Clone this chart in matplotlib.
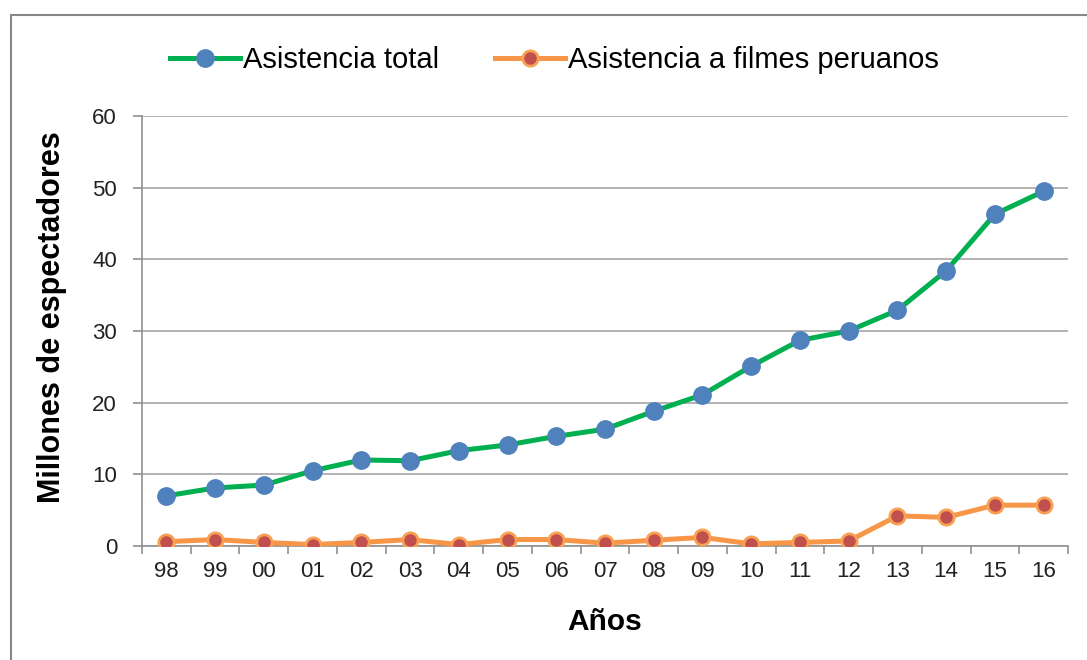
import numpy as np
import matplotlib
matplotlib.use("Agg")
import matplotlib.pyplot as plt
from matplotlib.patches import Rectangle

plt.rcParams['font.family'] = ['Liberation Sans', 'DejaVu Sans']

# Datos (millones de espectadores)
anios = ['98', '99', '00', '01', '02', '03', '04', '05', '06', '07',
         '08', '09', '10', '11', '12', '13', '14', '15', '16']
asistencia_total = [7.0, 8.1, 8.5, 10.5, 12.0, 11.9, 13.3, 14.1, 15.3, 16.3,
                    18.8, 21.1, 25.1, 28.7, 30.0, 32.9, 38.4, 46.3, 49.5]
asistencia_peruanos = [0.6, 0.9, 0.5, 0.2, 0.5, 0.9, 0.2, 0.9, 0.9, 0.4,
                       0.8, 1.2, 0.3, 0.5, 0.7, 4.2, 4.0, 5.7, 5.7]

fig = plt.figure(figsize=(10.87, 6.6), dpi=100)
ax = fig.add_axes([142 / 1087, 114 / 660, 926 / 1087, 430 / 660])

x = np.arange(len(anios))
ax.plot(x, asistencia_total, color='#00b050', lw=3.6, marker='o', ms=12.5,
        mfc='#4f81bd', mec='#4f81bd', label='Asistencia total', zorder=3)
ax.plot(x, asistencia_peruanos, color='#f79646', lw=3.6, marker='o', ms=11,
        mfc='#c0504d', mec='#f9a054', mew=2, label='Asistencia a filmes peruanos', zorder=3)

ax.set_ylim(0, 60)
ax.set_yticks(range(0, 61, 10))
ax.set_xlim(-0.5, len(anios) - 0.5)
ax.set_xticks(x)
ax.set_xticklabels(anios)
ax.set_xticks(np.arange(-0.5, len(anios), 1), minor=True)
ax.tick_params(axis='x', which='major', length=0, pad=11, labelsize=16, labelcolor='#222222')
ax.tick_params(axis='x', which='minor', length=6, color='#909090', width=1.2)
ax.tick_params(axis='y', length=6.5, color='#909090', width=1.2, pad=11.5,
               labelsize=16, labelcolor='#222222')

ax.grid(axis='y', color='#a6a6a6', lw=1.2)
ax.set_axisbelow(True)
for s in ['top', 'right']:
    ax.spines[s].set_visible(False)
for s in ['left', 'bottom']:
    ax.spines[s].set_color('#909090')
    ax.spines[s].set_linewidth(1.2)

ax.set_xlabel('Años', fontsize=21.5, fontweight='bold', va='center')
ax.xaxis.set_label_coords(0.5, -0.177)
ax.set_ylabel('Millones de espectadores', fontsize=22, fontweight='bold', va='center')
ax.yaxis.set_label_coords(-0.097, 0.533)

fig.legend(loc='center', bbox_to_anchor=(0.510, 0.909), ncol=2, frameon=False,
           fontsize=21, handlelength=2.4, handletextpad=0.1, columnspacing=1.9,
           borderpad=0, borderaxespad=0)

fig.patches.append(Rectangle((11 / 1087, -0.1), 1.2, 1.1 - 15 / 660,
                             transform=fig.transFigure, fill=False,
                             ec='#888888', lw=1.5))

fig.savefig('out.png', dpi=100)
